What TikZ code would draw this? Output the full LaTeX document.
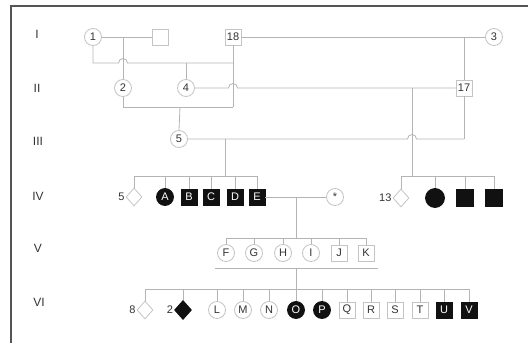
\documentclass[tikz,border=0pt]{standalone}
\usepackage{fontspec}
\setmainfont{Liberation Sans}
\usetikzlibrary{shapes.geometric}
\definecolor{ln}{HTML}{B4B4B4}
\definecolor{ol}{HTML}{C4C4C4}
\definecolor{tx}{HTML}{333333}
\definecolor{fl}{HTML}{111111}
\definecolor{fr}{HTML}{555555}
\begin{document}
\begin{tikzpicture}[x=1pt,y=-1pt,
  lnk/.style={draw=ln,line width=0.8pt},
  fem/.style={circle,draw=ol,line width=0.8pt,fill=white,minimum size=17pt,inner sep=0pt,font=\fontsize{11}{11}\selectfont,text=tx},
  mal/.style={rectangle,draw=ol,line width=0.8pt,fill=white,minimum size=16pt,inner sep=0pt,font=\fontsize{11}{11}\selectfont,text=tx},
  femA/.style={fem,fill=fl,draw=fl,text=white},
  malA/.style={mal,fill=fl,draw=fl,text=white},
  unk/.style={diamond,draw=ol,line width=0.8pt,fill=white,minimum width=16pt,minimum height=18pt,inner sep=0pt},
  unkA/.style={unk,fill=fl,draw=fl},
  gen/.style={font=\fontsize{12}{12}\selectfont,text=tx},
  num/.style={font=\fontsize{11}{11}\selectfont,text=tx,inner sep=1pt}]
\useasboundingbox (0,0) rectangle (528,343);
\draw[fr,line width=1.5pt] (11,343) -- (11,6) -- (528,6);

% generation labels
\node[gen] (g1) at (37,34) {I};
\node[gen] (g2) at (37,88) {II};
\node[gen] (g3) at (38,141) {III};
\node[gen] (g4) at (38,196) {IV};
\node[gen] (g5) at (38,248) {V};
\node[gen] (g6) at (39,302) {VI};

% generation I
\node[fem] (p1) at (93,37) {1};
\node[mal] (p0) at (160,37) {};
\node[mal] (p18) at (233,37) {18};
\node[fem] (p3) at (494,37) {3};
% generation II
\node[fem] (p2) at (123,88) {2};
\node[fem] (p4) at (186,88) {4};
\node[mal] (p17) at (464,88) {17};
% generation III
\node[fem] (p5) at (179,139) {5};

% generation IV
\node[unk] (d5) at (134,197) {};
\node[num,anchor=east] (l5) at (d5.west) {5};
\node[femA] (pA) at (165,197) {A};
\node[malA] (pB) at (189,197) {B};
\node[malA] (pC) at (211,197) {C};
\node[malA] (pD) at (235,197) {D};
\node[malA] (pE) at (257,197) {E};
\node[fem] (pS) at (335,197) {*};
\node[unk] (d13) at (401,198) {};
\node[num,anchor=east] (l13) at (d13.west) {13};
\node[femA,minimum size=19pt] (q1) at (435,198) {};
\node[malA,minimum size=17pt] (q2) at (465,198) {};
\node[malA,minimum size=17pt] (q3) at (494,198) {};

% generation V
\node[fem] (pF) at (226,253) {F};
\node[fem] (pG) at (254,253) {G};
\node[fem] (pH) at (283,253) {H};
\node[fem] (pI) at (311,253) {I};
\node[mal] (pJ) at (339,253) {J};
\node[mal] (pK) at (366,253) {K};

% generation VI
\node[unk] (d8) at (145,310) {};
\node[num,anchor=east] (l8) at (d8.west) {8};
\node[unkA,minimum width=17pt,minimum height=19pt] (d2) at (183,310) {};
\node[num,anchor=east] (l2) at (d2.west) {2};
\node[fem] (pL) at (217,310) {L};
\node[fem] (pM) at (243,310) {M};
\node[fem] (pN) at (269,310) {N};
\node[femA] (pO) at (296,310) {O};
\node[femA] (pP) at (322,310) {P};
\node[mal] (pQ) at (347,310) {Q};
\node[mal] (pR) at (371,310) {R};
\node[mal] (pS2) at (395,310) {S};
\node[mal] (pT) at (420,310) {T};
\node[malA] (pU) at (444,310) {U};
\node[malA] (pV) at (469,310) {V};

% junction coordinates
\coordinate (u10) at (123,37);
\coordinate (u118) at (233,63);
\coordinate (k4) at (186,63);
\coordinate (u218) at (233,107);
\coordinate (k5) at (180,107);
\coordinate (u183) at (464,37);
\coordinate (u517) at (464,139);
\coordinate (u417) at (412,88);
\coordinate (s13) at (412,176);
\coordinate (u5) at (225,139);
\coordinate (sA) at (225,176);
\coordinate (uE) at (296,197);
\coordinate (sF) at (296,238);
\coordinate (bL) at (215,268);
\coordinate (bR) at (378,268);
\coordinate (bM) at (296,268);
\coordinate (sL) at (296,289);

% connectors
\draw[lnk] (p1.east) -- (p0.west);
\draw[lnk] (u10) -- (p2.north);
\draw[lnk] (p1.south) |- (118.5,63) arc[start angle=180,end angle=0,radius=4.5pt] -- (u118);
\draw[lnk] (k4) -- (p4.north);
\draw[lnk] (p18.south) -- (u218);
\draw[lnk] (p2.south) |- (u218);
\draw[lnk] (k5) -- (p5.north);
\draw[lnk] (p18.east) -- (p3.west);
\draw[lnk] (u183) -- (p17.north);
\draw[lnk] (p17.south) -- (u517);
\draw[lnk] (p4.east) -- (228.5,88) arc[start angle=180,end angle=0,radius=4.5pt] -- (p17.west);
\draw[lnk] (p5.east) -- (407.5,139) arc[start angle=180,end angle=0,radius=4.5pt] -- (u517);
\draw[lnk] (u417) -- (s13);
\draw[lnk] (u5) -- (sA);

% sibship IV left
\draw[lnk] (d5.north |- sA) -- (pE.north |- sA);
\foreach \n in {d5,pA,pB,pC,pD,pE} \draw[lnk] (\n.north |- sA) -- (\n.north);
% sibship IV right
\draw[lnk] (d13.north |- s13) -- (q3.north |- s13);
\foreach \n in {d13,q1,q2,q3} \draw[lnk] (\n.north |- s13) -- (\n.north);
% union E x *
\draw[lnk] (pE.east) -- (pS.west);
\draw[lnk] (uE) -- (sF);
% sibship V
\draw[lnk] (pF.north |- sF) -- (pK.north |- sF);
\foreach \n in {pF,pG,pH,pI,pJ,pK} \draw[lnk] (\n.north |- sF) -- (\n.north);
\draw[lnk] (bL) -- (bR);
\draw[lnk] (bM) -- (sL);
% sibship VI
\draw[lnk] (d8.north |- sL) -- (pV.north |- sL);
\foreach \n in {d8,d2,pL,pM,pN,pO,pP,pQ,pR,pS2,pT,pU,pV} \draw[lnk] (\n.north |- sL) -- (\n.north);
\end{tikzpicture}
\end{document}
